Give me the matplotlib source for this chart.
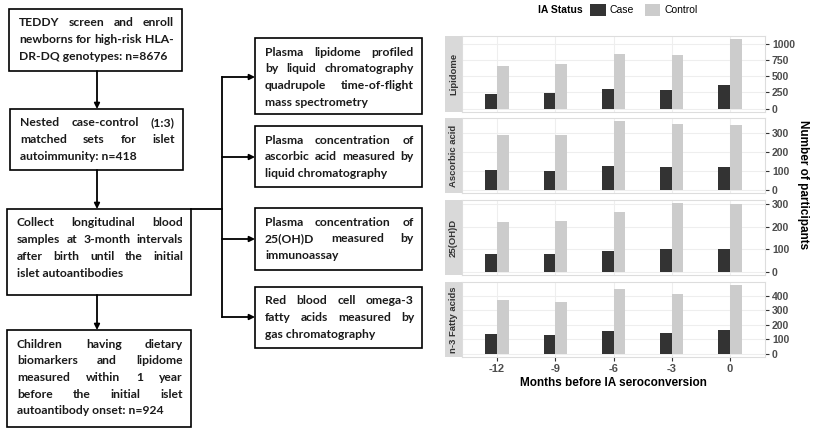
import matplotlib
matplotlib.use("Agg")
import matplotlib.pyplot as plt
from matplotlib.patches import Rectangle
import numpy as np

# Participant counts per measurement window
months = ["-12", "-9", "-6", "-3", "0"]
panels = ["Lipidome", "Ascorbic acid", "25(OH)D", "n-3 Fatty acids"]
case_counts = {
    "Lipidome": [224, 240, 297, 292, 370],
    "Ascorbic acid": [102, 100, 125, 119, 118],
    "25(OH)D": [78, 78, 93, 100, 99],
    "n-3 Fatty acids": [135, 128, 155, 146, 165],
}
control_counts = {
    "Lipidome": [656, 693, 839, 823, 1068],
    "Ascorbic acid": [288, 293, 363, 349, 342],
    "25(OH)D": [219, 226, 266, 303, 300],
    "n-3 Fatty acids": [375, 357, 446, 416, 473],
}
y_ticks = {
    "Lipidome": [0, 250, 500, 750, 1000],
    "Ascorbic acid": [0, 100, 200, 300],
    "25(OH)D": [0, 100, 200, 300],
    "n-3 Fatty acids": [0, 100, 200, 300, 400],
}

# Flowchart text
left_boxes = [
    ["TEDDY screen and enroll", "newborns for high-risk HLA-", "DR-DQ genotypes: n=8676"],
    ["Nested case-control (1:3)", "matched sets for islet", "autoimmunity: n=418"],
    ["Collect longitudinal blood", "samples at 3-month intervals",
     "after birth until the initial", "islet autoantibodies"],
    ["Children having dietary", "biomarkers and lipidome", "measured within 1 year",
     "before the initial islet", "autoantibody onset: n=924"],
]
right_boxes = [
    ["Plasma lipidome profiled", "by liquid chromatography",
     "quadrupole time-of-flight", "mass spectrometry"],
    ["Plasma concentration of", "ascorbic acid measured by", "liquid chromatography"],
    ["Plasma concentration of", "25(OH)D measured by", "immunoassay"],
    ["Red blood cell omega-3", "fatty acids measured by", "gas chromatography"],
]

W, H = 817, 434
fig = plt.figure(figsize=(W / 100, H / 100), dpi=100)
fig.patch.set_facecolor("white")

# overlay in pixel coordinates for the flowchart
ov = fig.add_axes([0, 0, 1, 1])
ov.set_xlim(0, W)
ov.set_ylim(H, 0)
ov.axis("off")
renderer = fig.canvas.get_renderer()

box_font = dict(family=["Lato", "DejaVu Sans"], fontweight="bold", fontsize=10, color="#1a1a1a")
line_h = 16.7

left_pos = [(9, 9, 182, 71), (10, 109, 183, 170), (7, 209, 191, 295), (7, 330, 191, 427)]
right_pos = [(255, 38, 422, 114), (255, 126, 422, 187), (255, 208, 422, 270), (255, 287, 422, 348)]
pads = (10, 8)


def text_width(s):
    t = ov.text(0, 0, s, **box_font)
    w = t.get_window_extent(renderer).width
    t.remove()
    return w


# pick the largest font size at which every line still fits its box
ratio = 1.0
for (x0, _, x1, _), lines in zip(left_pos + right_pos, left_boxes + right_boxes):
    avail = x1 - x0 - sum(pads)
    for line in lines:
        ratio = min(ratio, avail / text_width(line))
box_font["fontsize"] = box_font["fontsize"] * ratio * 0.995


def draw_box(x0, y0, x1, y1, lines, first=14):
    ov.add_patch(Rectangle((x0, y0), x1 - x0, y1 - y0, fill=False, lw=1.2, ec="black"))
    tx0, tx1 = x0 + pads[0], x1 - pads[1]
    for i, line in enumerate(lines):
        y = y0 + first + i * line_h
        words = line.split()
        if i == len(lines) - 1 or len(words) == 1:
            ov.text(tx0, y, line, ha="left", va="center", **box_font)
            continue
        # justify the words across the box width
        texts = [ov.text(0, y, w, ha="left", va="center", **box_font) for w in words]
        widths = [t.get_window_extent(renderer).width for t in texts]
        gap = (tx1 - tx0 - sum(widths)) / (len(words) - 1)
        x = tx0
        for t, w in zip(texts, widths):
            t.set_x(x)
            x += w + gap


def arrow(x0, y0, x1, y1):
    ov.annotate("", xy=(x1, y1), xytext=(x0, y0),
                arrowprops=dict(arrowstyle="-|>", color="black", lw=1.3,
                                mutation_scale=8, shrinkA=0, shrinkB=0))


for (x0, y0, x1, y1), lines in zip(left_pos, left_boxes):
    draw_box(x0, y0, x1, y1, lines)
for (x0, y0, x1, y1), lines in zip(right_pos, right_boxes):
    draw_box(x0, y0, x1, y1, lines)

# vertical flow on the left
arrow(97, 71, 97, 109)
arrow(97, 170, 97, 209)
arrow(97, 295, 97, 330)

# branch to the measurement boxes
ov.plot([191, 222], [209, 209], color="black", lw=1.3)
ov.plot([222, 222], [77, 317], color="black", lw=1.3)
for y in [77, 157, 239, 317]:
    arrow(222, y, 255, y)

# faceted bar chart
chart_font = ["Liberation Sans", "DejaVu Sans"]
case_color, control_color = "#333333", "#CCCCCC"
px0, px1 = 462, 765
panel_y = [(36, 112), (118, 193), (200, 275), (282, 357)]
x = np.arange(len(months))
bw = 0.2

for k, (name, (y0, y1)) in enumerate(zip(panels, panel_y)):
    ax = fig.add_axes([px0 / W, 1 - y1 / H, (px1 - px0) / W, (y1 - y0) / H])
    cb = ax.bar(x - bw / 2, case_counts[name], width=bw, color=case_color, zorder=3)
    nb = ax.bar(x + bw / 2, control_counts[name], width=bw, color=control_color, zorder=3)
    top = max(control_counts[name])
    ax.set_ylim(-0.05 * top, 1.05 * top)
    ax.set_xlim(-0.6, len(months) - 0.4)
    ax.set_xticks(x)
    ax.set_yticks(y_ticks[name])
    ax.yaxis.tick_right()
    ax.grid(True, color="#EEEEEE", lw=0.8, zorder=0)
    for s in ax.spines.values():
        s.set_color("#DDDDDD")
        s.set_linewidth(0.8)
    ax.tick_params(axis="y", length=3, width=0.8, color="#333333", pad=2,
                   labelsize=7.5, labelcolor="#4D4D4D")
    for lab in ax.get_yticklabels():
        lab.set_fontweight("bold")
        lab.set_family(chart_font)
    if k < len(panels) - 1:
        ax.tick_params(axis="x", length=0, labelbottom=False)
    else:
        ax.set_xticklabels(months)
        ax.tick_params(axis="x", length=3, width=0.8, color="#333333", pad=2,
                       labelsize=8, labelcolor="#4D4D4D")
        for lab in ax.get_xticklabels():
            lab.set_fontweight("bold")
            lab.set_family(chart_font)
        ax.set_xlabel("Months before IA seroconversion", fontsize=8.5, fontweight="bold",
                      family=chart_font, labelpad=2)
    # facet strip on the left
    sx = fig.add_axes([445 / W, 1 - y1 / H, (px0 - 445) / W, (y1 - y0) / H])
    sx.set_facecolor("#D9D9D9")
    sx.set_xticks([])
    sx.set_yticks([])
    for s in sx.spines.values():
        s.set_visible(False)
    sx.text(0.5, 0.5, name, rotation=90, ha="center", va="center", transform=sx.transAxes,
            fontsize=6.8, fontweight="bold", color="#333333", family=chart_font)
    if k == 0:
        handles = [cb, nb]

fig.text(803 / W, 1 - 185 / H, "Number of participants", rotation=270, ha="center",
         va="center", fontsize=8.5, fontweight="bold", family=chart_font)

fig.text(560 / W, 1 - 10 / H, "IA Status", ha="center", va="center", fontsize=7.5,
         fontweight="bold", family=chart_font)
fig.legend(handles, ["Case", "Control"], ncol=2, frameon=False,
           loc="center left", bbox_to_anchor=(585 / W, 1 - 10 / H),
           handlelength=1.5, handleheight=1.5, handletextpad=0.4, columnspacing=1.0,
           borderpad=0, prop=dict(family=chart_font, size=7.5))

fig.savefig("out.png", dpi=100)
